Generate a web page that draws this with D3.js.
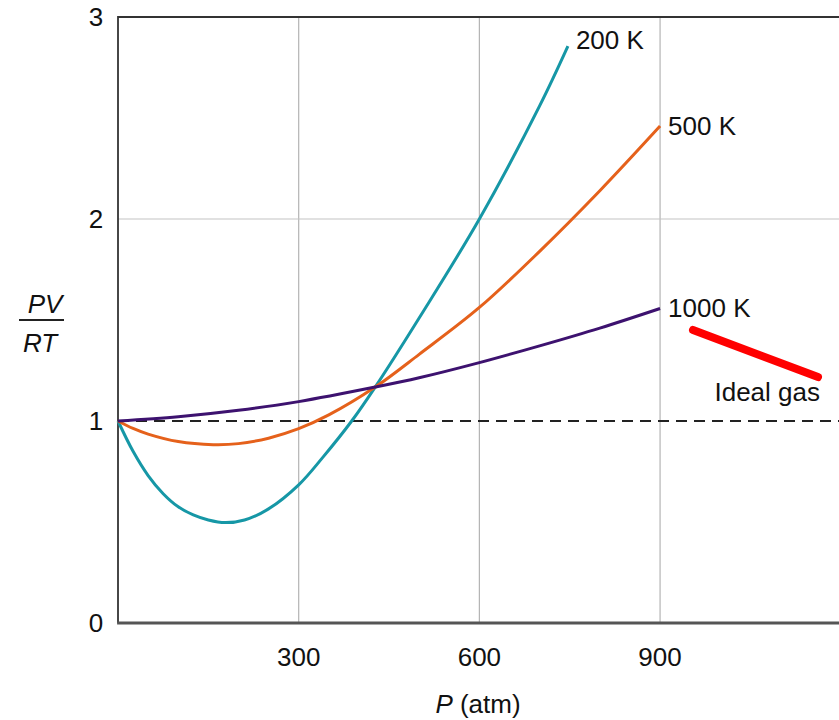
<!DOCTYPE html>
<html>
<head>
<meta charset="utf-8">
<script src="https://cdn.jsdelivr.net/npm/d3@7"></script>
<style>
  body { margin: 0; background: #fff; }
  text { font-family: "Liberation Sans", Arial, sans-serif; fill: #111; }
</style>
</head>
<body>
<div id="chart"></div>
<script>
//////////////////////////// data /////////////////////////////////////////

const pressure200 = [0, 25, 50, 75, 100, 125, 150, 178, 210, 250, 300, 340, 388, 427, 500, 600, 700, 747];
const ratio200 = [1, 0.85, 0.73, 0.64, 0.575, 0.535, 0.51, 0.497, 0.51, 0.565, 0.684, 0.82, 1.0, 1.168, 1.51, 2.0, 2.56, 2.856];

const pressure500 = [0, 25, 50, 100, 158, 200, 250, 300, 350, 427, 500, 600, 700, 800, 900];
const ratio500 = [1, 0.963, 0.935, 0.898, 0.883, 0.888, 0.915, 0.962, 1.03, 1.168, 1.33, 1.562, 1.84, 2.14, 2.46];

const pressure1000 = [0, 100, 200, 300, 427, 500, 600, 700, 800, 900];
const ratio1000 = [1, 1.021, 1.053, 1.096, 1.168, 1.214, 1.289, 1.372, 1.46, 1.557];

const seriesNames = ["200 K", "500 K", "1000 K"];
const xTicks = [300, 600, 900];
const yTicks = [0, 1, 2, 3];
const idealValue = 1;

const series = [
	{ name: seriesNames[0], color: "#1697a6", dy: -6, values: pressure200.map((p, i) => ({ p, r: ratio200[i] })) },
	{ name: seriesNames[1], color: "#e5611b", dy: 0, values: pressure500.map((p, i) => ({ p, r: ratio500[i] })) },
	{ name: seriesNames[2], color: "#3d126f", dy: -1, values: pressure1000.map((p, i) => ({ p, r: ratio1000[i] })) }
];

//////////////////////////// sizes ///////////////////////////////////////

const width = 839;
const height = 720;
const margin = { top: 17, left: 118, bottom: 97 };
const fontSize = "26px";

const svg = d3.select("#chart").append("svg")
	.attr("width", width)
	.attr("height", height);

//////////////////////////// scales //////////////////////////////////////

const xScale = d3.scaleLinear().domain([0, 1200]).range([margin.left, margin.left + 1200 * 0.6023]);
const yScale = d3.scaleLinear().domain([0, 3]).range([height - margin.bottom, margin.top]);

//////////////////////////// grid ////////////////////////////////////////

svg.selectAll(".vgrid").data(xTicks).enter().append("line")
	.attr("x1", d => xScale(d)).attr("x2", d => xScale(d))
	.attr("y1", yScale(3)).attr("y2", yScale(0))
	.attr("stroke", "#b4b4b4").attr("stroke-width", 1.2);

svg.append("line")
	.attr("x1", xScale(0)).attr("x2", width)
	.attr("y1", yScale(2)).attr("y2", yScale(2))
	.attr("stroke", "#c4c4c4").attr("stroke-width", 1.2);

// ideal gas dashed line
svg.append("line")
	.attr("x1", xScale(0)).attr("x2", width)
	.attr("y1", yScale(idealValue)).attr("y2", yScale(idealValue))
	.attr("stroke", "#222").attr("stroke-width", 1.8)
	.attr("stroke-dasharray", "11,7");

// frame
svg.append("line")
	.attr("x1", xScale(0)).attr("x2", width)
	.attr("y1", yScale(3)).attr("y2", yScale(3))
	.attr("stroke", "#333").attr("stroke-width", 1.8);
svg.append("line")
	.attr("x1", xScale(0)).attr("x2", xScale(0))
	.attr("y1", yScale(3) - 0.9).attr("y2", yScale(0))
	.attr("stroke", "#333").attr("stroke-width", 1.8);
svg.append("line")
	.attr("x1", xScale(0) - 0.9).attr("x2", width)
	.attr("y1", yScale(0)).attr("y2", yScale(0))
	.attr("stroke", "#555").attr("stroke-width", 3);

//////////////////////////// axes labels /////////////////////////////////

svg.selectAll(".ytick").data(yTicks).enter().append("text")
	.attr("x", 96).attr("y", d => yScale(d))
	.attr("dy", "0.36em")
	.attr("text-anchor", "middle")
	.style("font-size", fontSize)
	.text(d => d);

svg.selectAll(".xtick").data(xTicks).enter().append("text")
	.attr("x", d => xScale(d)).attr("y", 666)
	.attr("text-anchor", "middle")
	.style("font-size", fontSize)
	.text(d => d);

const xLabel = svg.append("text")
	.attr("x", 478).attr("y", 713)
	.attr("text-anchor", "middle")
	.style("font-size", fontSize);
xLabel.append("tspan").style("font-style", "italic").text("P");
xLabel.append("tspan").text(" (atm)");

// PV / RT
svg.append("text").attr("x", 45).attr("y", 313).attr("text-anchor", "middle")
	.style("font-size", fontSize).style("font-style", "italic").text("PV");
svg.append("line").attr("x1", 19).attr("x2", 64).attr("y1", 320).attr("y2", 320)
	.attr("stroke", "#222").attr("stroke-width", 1.8);
svg.append("text").attr("x", 40).attr("y", 352).attr("text-anchor", "middle")
	.style("font-size", fontSize).style("font-style", "italic").text("RT");

//////////////////////////// curves //////////////////////////////////////

const line = d3.line()
	.x(d => xScale(d.p))
	.y(d => yScale(d.r))
	.curve(d3.curveCatmullRom.alpha(0.5));

svg.selectAll(".curve").data(series).enter().append("path")
	.attr("class", "curve")
	.attr("d", d => line(d.values))
	.attr("fill", "none")
	.attr("stroke", d => d.color)
	.attr("stroke-width", 3);

svg.selectAll(".label").data(series).enter().append("text")
	.attr("x", d => xScale(d.values[d.values.length - 1].p) + 8)
	.attr("y", d => yScale(d.values[d.values.length - 1].r) + d.dy)
	.attr("dy", "0.36em")
	.style("font-size", fontSize)
	.text(d => d.name);

//////////////////////////// ideal gas annotation ////////////////////////

svg.append("line")
	.attr("x1", 693).attr("y1", 330).attr("x2", 818).attr("y2", 377)
	.attr("stroke", "#ff0000").attr("stroke-width", 8)
	.attr("stroke-linecap", "round");

svg.append("text")
	.attr("x", 820).attr("y", 401)
	.attr("text-anchor", "end")
	.style("font-size", fontSize)
	.text("Ideal gas");
</script>
</body>
</html>
